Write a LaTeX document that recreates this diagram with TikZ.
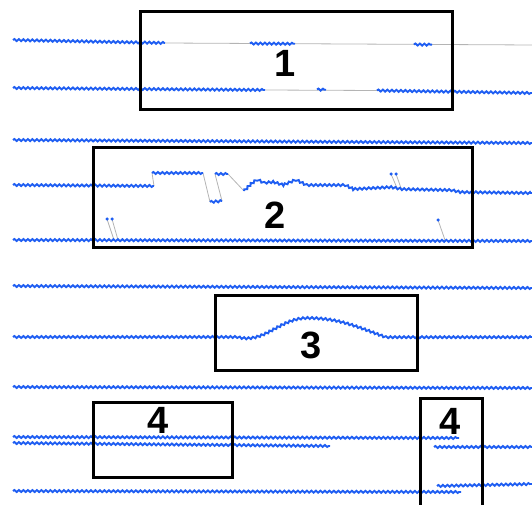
\documentclass[tikz,border=0pt]{standalone}
\usepackage{xcolor}
\usepackage{fontspec}
\setmainfont{Liberation Sans}
\usepackage{tikz}
\usetikzlibrary{decorations.pathmorphing}
\definecolor{trackblue}{HTML}{1F5EF2}
\definecolor{gapgray}{HTML}{B4B4B4}

\tikzset{
  track/.style={draw=trackblue, line width=1.9pt,
    decorate, decoration={snake, amplitude=1pt, segment length=4.5pt}},
  gap/.style={draw=gapgray, line width=0.8pt},
  tip/.style={fill=trackblue, circle, inner sep=0pt, minimum size=3.5pt},
  zone/.style={draw=black, line width=3pt},
  zonelabel/.style={font=\fontsize{38}{40}\selectfont\bfseries, inner sep=0pt}
}

\begin{document}
\begin{tikzpicture}[x=1pt, y=-1pt]
  \useasboundingbox (0,0) rectangle (532,505);

  % Riga 1 -- tratti mancanti
  \draw[gap] (165,43) -- (532,45);
  \draw[track] (13,40) -- (165,43);
  \draw[track] (250,43.5) -- (295,43.8);
  \draw[track] (414,44.5) -- (432,44.7);

  % Riga 2
  \draw[gap] (265,90) -- (377,90.5);
  \draw[track] (13,88) -- (265,90);
  \draw[track] (317,89.5) -- (326,89.8);
  \draw[track] (377,90.5) -- (532,93);

  % Riga 3
  \draw[track] (13,140) -- (532,143);

  % Riga 4 -- salti e rumore
  \draw[gap] (154,186) -- (152,173);
  \draw[gap] (203,173) -- (210,202);
  \draw[gap] (222,201) -- (215,174);
  \draw[gap] (228,174) -- (244,191);
  \draw[gap] (391,174) -- (397,188);
  \draw[gap] (396,174) -- (401,188);
  \draw[track] (13,185) -- (154,186);
  \draw[track] (152,173) -- (203,173);
  \draw[track] (210,202) -- (222,201);
  \draw[track] (215,174) -- (228,174);
  \draw[track] (244,191) -- (250,185) -- (257,180) -- (263,183) -- (272,182)
    -- (282,185) -- (294,180) -- (304,185) -- (342,185) -- (350,189)
    -- (389,187) -- (400,189) -- (449,190) -- (458,192) -- (532,193);
  \node[tip] (s1) at (391,174) {};
  \node[tip] (s2) at (396,174) {};

  % Riga 5 -- punti isolati
  \draw[gap] (107,219) -- (114,240);
  \draw[gap] (112,219) -- (118,240);
  \draw[gap] (438,220) -- (445,240);
  \draw[track] (13,240) -- (532,241);
  \node[tip] (s3) at (107,219) {};
  \node[tip] (s4) at (112,219) {};
  \node[tip] (s5) at (438,220) {};

  % Riga 6
  \draw[track] (13,286) -- (532,288);

  % Riga 7 -- gobba
  \draw[track] (13,337) -- (236,337) to[out=-15,in=180] (306,318)
    to[out=0,in=160] (384,337) -- (532,337);

  % Riga 8
  \draw[track] (13,387) -- (532,388);

  % Riga 9 -- doppia
  \draw[track] (13,437) -- (459,438);
  \draw[track] (13,443) -- (330,446);
  \draw[track] (434,447) -- (532,447);

  % Riga 10
  \draw[track] (13,491) -- (461,492);
  \draw[track] (437,486) -- (532,484);

  % Riquadri
  \draw[zone] (140,12) rectangle (452,110);
  \draw[zone] (93,148) rectangle (472,247);
  \draw[zone] (215,295) rectangle (417,370);
  \draw[zone] (93,402) rectangle (232,477);
  \draw[zone] (420,398) rectangle (482,510);

  % Etichette riquadri
  \node[zonelabel] (n1) at (285,63) {1};
  \node[zonelabel] (n2) at (275,215) {2};
  \node[zonelabel] (n3) at (311,345) {3};
  \node[zonelabel] (n4a) at (158,420) {4};
  \node[zonelabel] (n4b) at (450,421) {4};
\end{tikzpicture}
\end{document}
